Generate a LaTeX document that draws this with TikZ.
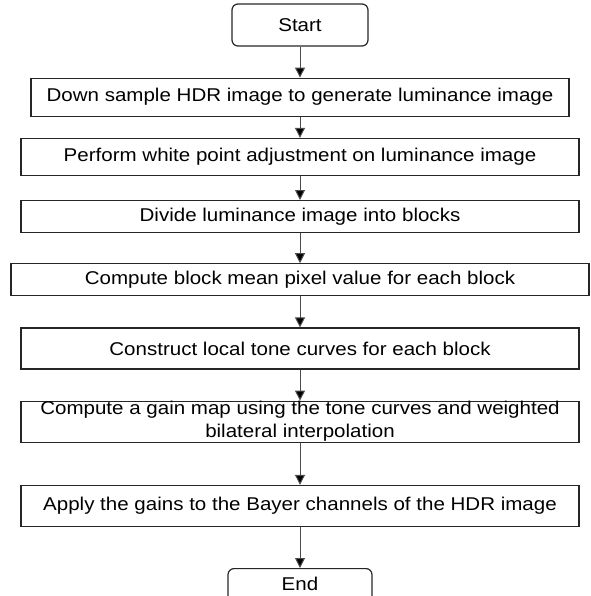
\documentclass[tikz,border=0pt]{standalone}
\usepackage{fontspec}
\setmainfont[FakeStretch=1.11]{Liberation Sans}
\usepackage{tikz}
\usetikzlibrary{positioning,shapes,arrows.meta}

\begin{document}
\begin{tikzpicture}[
  x=1pt, y=1pt,
  font=\fontsize{18.5}{23}\selectfont,
  stepbox/.style={draw=black!85, line width=1.2pt, rectangle, inner sep=0pt, align=center, minimum width=558pt, minimum height=41pt},
  termbox/.style={draw=black!85, line width=1.2pt, rectangle, rounded corners=6pt, inner sep=0pt, minimum width=136pt, minimum height=42pt},
  flow/.style={draw=black!70, line width=1pt, -{Triangle[length=10pt,width=10pt]}},
 ]
\useasboundingbox (0,0) rectangle (590,-596);
\clip (0,0) rectangle (590,-596);

\node[termbox] (S) at (300,-25) {Start};
\node[stepbox, below=31pt of S, minimum width=538pt, minimum height=38pt] (B1) {Down sample HDR image to generate luminance image};
 \node[stepbox, below=21pt of B1, minimum height=37pt] (B2) {Perform white point adjustment on luminance image};
 \node[stepbox, below=24pt of B2, minimum height=32pt] (B3) {Divide luminance image into blocks};
 \node[stepbox, below=30pt of B3, minimum width=578pt, minimum height=32pt] (B4) {Compute block mean pixel value for each block};
 \node[stepbox, below=31pt of B4] (B5) {Construct local tone curves for each block};
 \node[stepbox, below=31pt of B5] (B6) {Compute a gain map using the tone curves and weighted\\bilateral interpolation};
 \node[stepbox, below=42pt of B6] (B7) {Apply the gains to the Bayer channels of the HDR image};
\node[termbox, below=41pt of B7, minimum width=144pt, minimum height=56pt, text depth=26pt] (E) {End};

\path[flow]
(S) edge (B1)
(B1) edge (B2)
(B2) edge (B3)
(B3) edge (B4)
(B4) edge (B5)
(B5) edge (B6)
(B6) edge (B7)
(B7) edge (E);

\end{tikzpicture}
\end{document}
